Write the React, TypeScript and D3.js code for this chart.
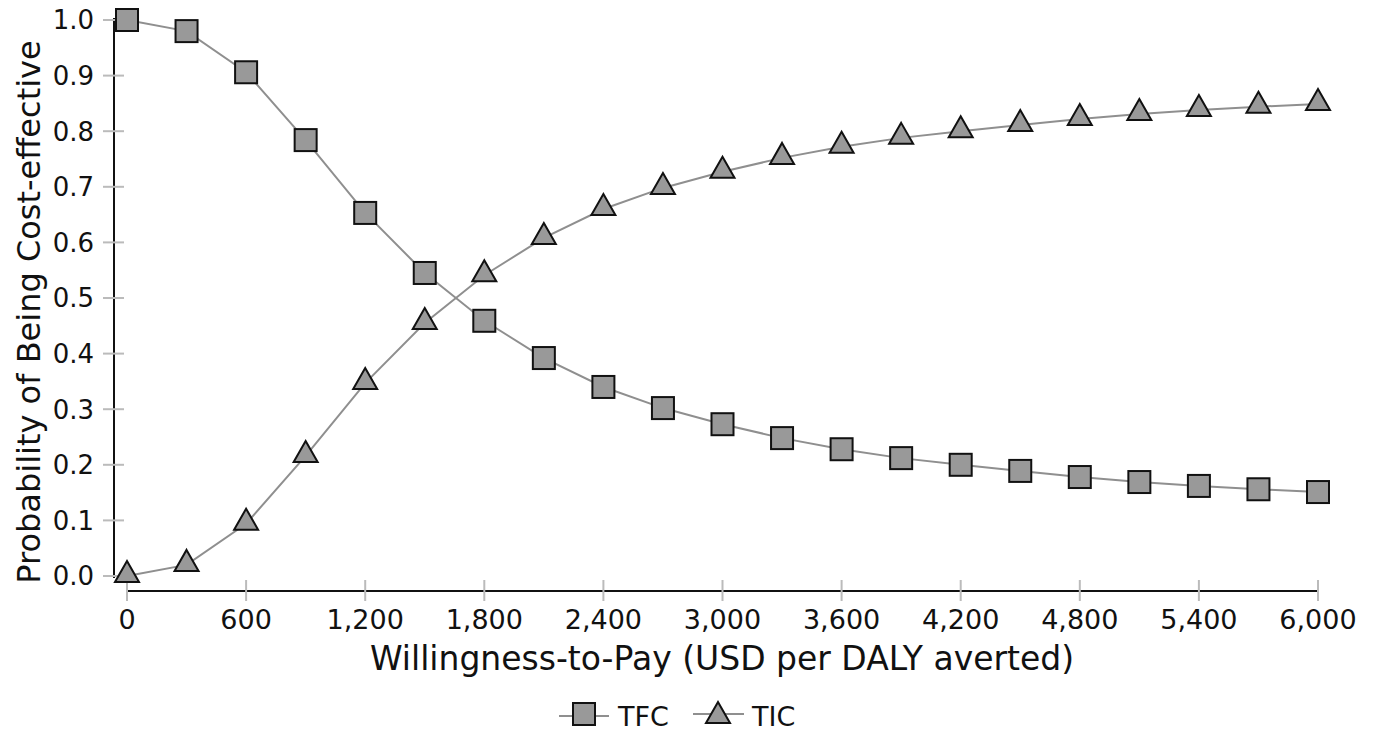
import React from 'react'
import * as d3 from 'd3'

// Data
const wtp = [0, 300, 600, 900, 1200, 1500, 1800, 2100, 2400, 2700, 3000, 3300, 3600, 3900, 4200, 4500, 4800, 5100, 5400, 5700, 6000]
const tfc = [1.0, 0.98, 0.906, 0.784, 0.653, 0.545, 0.459, 0.392, 0.34, 0.302, 0.273, 0.248, 0.228, 0.212, 0.2, 0.189, 0.178, 0.169, 0.162, 0.156, 0.151]
const tic = [0.0, 0.02, 0.094, 0.216, 0.347, 0.455, 0.541, 0.608, 0.66, 0.698, 0.727, 0.752, 0.772, 0.788, 0.8, 0.811, 0.822, 0.831, 0.838, 0.844, 0.849]
const xTicks = [0, 600, 1200, 1800, 2400, 3000, 3600, 4200, 4800, 5400, 6000]
const yTicks = [0, 0.1, 0.2, 0.3, 0.4, 0.5, 0.6, 0.7, 0.8, 0.9, 1.0]

const W = 1375
const H = 732
const font = "'DejaVu Sans', Verdana, sans-serif"
const lineColor = '#8f8f8f'
const markFill = '#999999'

const x = d3.scaleLinear().domain([0, 6000]).range([127, 1318])
const y = d3.scaleLinear().domain([0, 1]).range([576, 20])
const fmt = d3.format(',')

const line = d3
  .line<number>()
  .x((d, i) => x(wtp[i]))
  .y(d => y(d))

const Square = ({ cx, cy }: { cx: number; cy: number }) => (
  <rect x={cx - 11} y={cy - 11} width={22} height={22} fill={markFill} stroke="#111" strokeWidth={2} />
)

const Triangle = ({ cx, cy }: { cx: number; cy: number }) => (
  <path
    d={`M${cx},${cy - 13} L${cx + 12},${cy + 8} L${cx - 12},${cy + 8} Z`}
    fill={markFill}
    stroke="#111"
    strokeWidth={2}
  />
)

export default function App() {
  return (
    <svg width={W} height={H} style={{ position: 'absolute', left: 0, top: 0, background: '#fff' }} fontFamily={font}>
      {/* y axis */}
      <line x1={114} x2={114} y1={y(1) - 2} y2={y(0) + 2} stroke="#111" strokeWidth={2} />
      {yTicks.map(t => (
        <g key={t}>
          <line x1={103} x2={124} y1={y(t)} y2={y(t)} stroke="#bbb" strokeWidth={2} />
          <text x={94} y={y(t)} dy="0.36em" textAnchor="end" fontSize={26} fill="#111">
            {t.toFixed(1)}
          </text>
        </g>
      ))}
      {/* x axis */}
      <line x1={x(0)} x2={x(6000)} y1={591} y2={591} stroke="#111" strokeWidth={2} />
      {xTicks.map(t => (
        <g key={t}>
          <line x1={x(t)} x2={x(t)} y1={580} y2={601} stroke="#bbb" strokeWidth={2} />
          <text x={x(t)} y={629} textAnchor="middle" fontSize={27} fill="#111">
            {fmt(t)}
          </text>
        </g>
      ))}
      <text x={722} y={670} textAnchor="middle" fontSize={33} fill="#111">
        Willingness-to-Pay (USD per DALY averted)
      </text>
      <text transform="translate(40,312) rotate(-90)" textAnchor="middle" fontSize={32} fill="#111">
        Probability of Being Cost-effective
      </text>

      {/* series */}
      <path d={line(tfc) || ''} fill="none" stroke={lineColor} strokeWidth={2} />
      <path d={line(tic) || ''} fill="none" stroke={lineColor} strokeWidth={2} />
      {tfc.map((v, i) => (
        <Square key={'s' + i} cx={x(wtp[i])} cy={y(v)} />
      ))}
      {tic.map((v, i) => (
        <Triangle key={'t' + i} cx={x(wtp[i])} cy={y(v) - 2} />
      ))}

      {/* legend */}
      <line x1={559} x2={609} y1={716} y2={716} stroke={lineColor} strokeWidth={2} />
      <Square cx={584} cy={714} />
      <text x={618} y={726} fontSize={27} fill="#111">TFC</text>
      <line x1={693} x2={744} y1={714} y2={714} stroke={lineColor} strokeWidth={2} />
      <Triangle cx={718} cy={715} />
      <text x={752} y={726} fontSize={27} fill="#111">TIC</text>
    </svg>
  )
}
